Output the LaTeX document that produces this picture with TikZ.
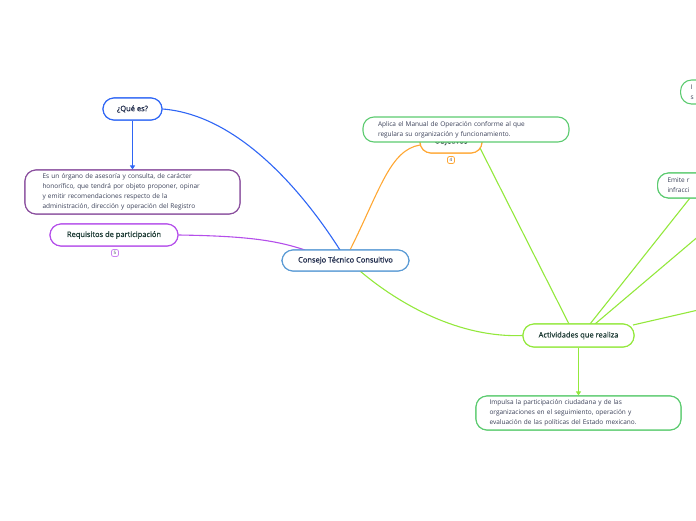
\documentclass[tikz,border=0pt]{standalone}
\usepackage{fontspec}
\setmainfont{Open Sans}
\newfontfamily\titlefont[FakeBold=0.9]{Open Sans}
\usetikzlibrary{arrows.meta}
\definecolor{cblue}{HTML}{2F66F5}
\definecolor{cpurp}{HTML}{8A4F9E}
\definecolor{cviol}{HTML}{B44EEA}
\definecolor{csky}{HTML}{5B9BD5}
\definecolor{corange}{HTML}{FFA733}
\definecolor{cgreen}{HTML}{5CCB70}
\definecolor{clime}{HTML}{93E83C}
\definecolor{ctitle}{HTML}{1F3D36}
\definecolor{cnavy}{HTML}{1E2A4A}
\definecolor{ctext}{HTML}{3A4058}
\tikzset{
  x=1pt, y=-1pt,
  box/.style={draw, fill=white, rounded corners=11pt, line width=1.1pt, inner sep=0pt, align=center},
  title/.style={box, text=ctitle, font=\titlefont\fontsize{7.5}{9}\selectfont},
  body/.style={box, text=ctext, font=\fontsize{6.5}{10}\selectfont, align=left},
  badge/.style={draw, fill=white, rounded corners=2pt, line width=0.8pt, minimum size=7pt, inner sep=0pt, font=\fontsize{4.5}{5}\selectfont, text=ctext},
  link/.style={line width=1.1pt},
  arr/.style={link, -{Triangle[length=4pt,width=5pt]}}
}
\begin{document}
\begin{tikzpicture}
\useasboundingbox (0,0) rectangle (696,520);
\clip (0,0) rectangle (696,520);
% nodes (positions)
\node[title, draw=csky, text=cnavy, minimum width=127pt, minimum height=21pt] (ctc) at (345.5,260.5) {Consejo Técnico Consultivo};
\node[title, draw=cblue, text=cnavy, minimum width=59pt, minimum height=22pt] (que) at (132.5,109) {¿Qué es?};
\node[body, draw=cpurp, minimum width=215pt, minimum height=44pt, text width=180pt] (desc) at (132.5,192) {Es un órgano de asesoría y consulta, de carácter\\honorífico, que tendrá por objeto proponer, opinar\\y emitir recomendaciones respecto de la\\administración, dirección y operación del Registro};
\node[title, draw=cviol, minimum width=128pt, minimum height=22pt] (req) at (114,235) {Requisitos de participación};
\node[badge, draw=cviol!70] (b5) at (115,253) {5};
\node[title, draw=corange, minimum width=62pt, minimum height=23pt] (obj) at (451,141.5) {Objetivos};
\node[badge, draw=corange] (b4) at (451,160) {4};
\node[title, draw=clime, minimum width=111pt, minimum height=23pt] (act) at (578.5,335.5) {Actividades que realiza};
\node[body, draw=cgreen, minimum width=205pt, minimum height=34pt, text width=178pt] (imp) at (578.5,413) {Impulsa la participación ciudadana y de las\\organizaciones en el seguimiento, operación y\\evaluación de las políticas del Estado mexicano.};
\node[body, draw=cgreen, minimum width=80pt, minimum height=25pt, text width=60pt, anchor=west] (emi) at (657,185.5) {Emite r\\infracci};
\node[body, draw=cgreen, minimum width=60pt, minimum height=24pt, text width=40pt, anchor=west] (top) at (680,92) {I\\s};
\coordinate (off1) at (720,218);
\coordinate (off2) at (720,305);
% connectors
\draw[link, cblue] (que.east) .. controls (240,115) and (305,195) .. (340,250);
\draw[arr, cblue] (que.south) -- (desc.north);
\draw[link, cviol] (req.east) .. controls (245,236) and (275,240) .. (305,250);
\draw[link, corange] (350,250) .. controls (380,190) and (390,150) .. (420,145);
\draw[link, clime] (360,271) .. controls (400,305) and (460,338) .. (act.west);
\draw[arr, clime] (act.south) -- (imp.north);
\draw[link, clime] (569,324) -- (477,142);
\draw[link, clime] (590,324) -- (690,198);
\draw[link, clime] (595,324) -- (off1);
\draw[link, clime] (633,325) -- (off2);
% nodes on top of connectors
\node[title, draw=csky, text=cnavy, minimum width=127pt, minimum height=21pt] at (ctc) {Consejo Técnico Consultivo};
\node[title, draw=corange, minimum width=62pt, minimum height=23pt] at (obj) {Objetivos};
\node[body, draw=cgreen, minimum width=206pt, minimum height=25pt, text width=176pt] (apl) at (466,129.5) {Aplica el Manual de Operación conforme al que\\regulara su organización y funcionamiento.};
\node[title, draw=clime, minimum width=111pt, minimum height=23pt] at (act) {Actividades que realiza};
\node[body, draw=cgreen, minimum width=80pt, minimum height=25pt, text width=60pt, anchor=west] at (657,185.5) {Emite r\\infracci};
\node[body, draw=cgreen, minimum width=205pt, minimum height=34pt, text width=178pt] at (imp) {Impulsa la participación ciudadana y de las\\organizaciones en el seguimiento, operación y\\evaluación de las políticas del Estado mexicano.};
\node[body, draw=cpurp, minimum width=215pt, minimum height=44pt, text width=180pt] at (desc) {Es un órgano de asesoría y consulta, de carácter\\honorífico, que tendrá por objeto proponer, opinar\\y emitir recomendaciones respecto de la\\administración, dirección y operación del Registro};
\node[title, draw=cviol, minimum width=128pt, minimum height=22pt] at (req) {Requisitos de participación};
\node[title, draw=cblue, text=cnavy, minimum width=59pt, minimum height=22pt] at (que) {¿Qué es?};
\end{tikzpicture}
\end{document}
